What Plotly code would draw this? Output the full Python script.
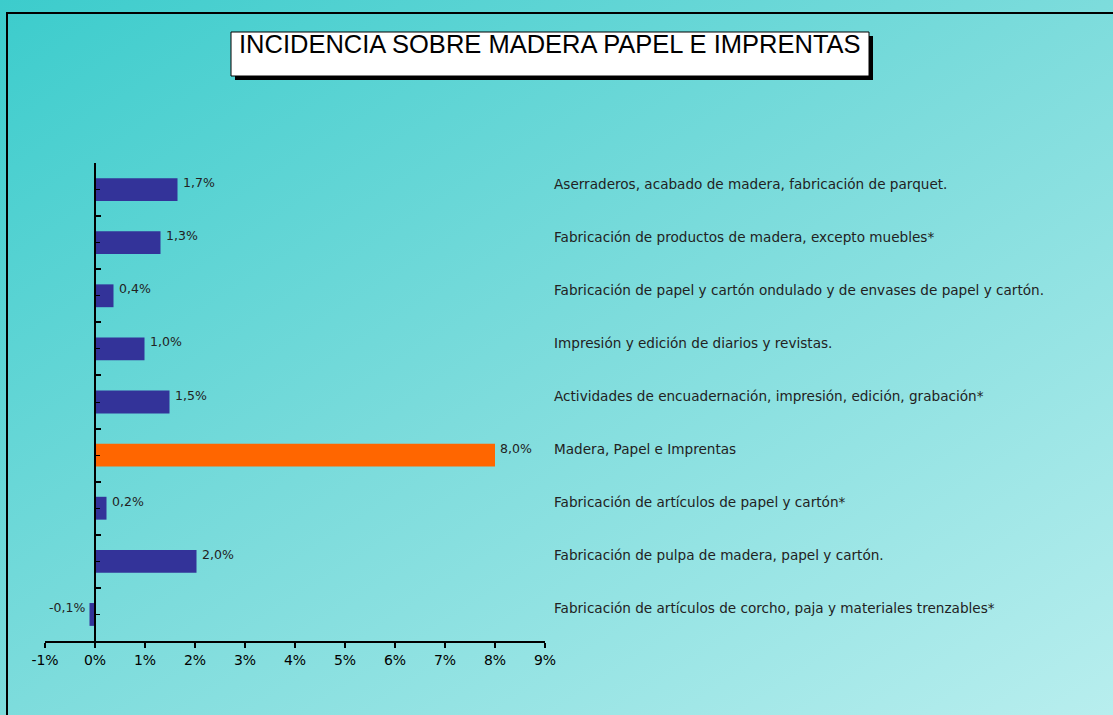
import plotly.graph_objects as go
import urllib.parse

# ---- data ----
categories = [
    "Aserraderos, acabado de madera, fabricación de parquet.",
    "Fabricación de productos de madera, excepto muebles*",
    "Fabricación de papel y cartón ondulado y de envases de papel y cartón.",
    "Impresión y edición de diarios y revistas.",
    "Actividades de encuadernación, impresión, edición, grabación*",
    "Madera, Papel e Imprentas",
    "Fabricación de artículos de papel y cartón*",
    "Fabricación de pulpa de madera, papel y cartón.",
    "Fabricación de artículos de corcho, paja y materiales trenzables*",
]
values = [1.65, 1.31, 0.37, 0.99, 1.49, 8.0, 0.23, 2.03, -0.11]
value_labels = ["1,7%", "1,3%", "0,4%", "1,0%", "1,5%", "8,0%", "0,2%", "2,0%", "-0,1%"]
x_tick_vals = [-1, 0, 1, 2, 3, 4, 5, 6, 7, 8, 9]
x_tick_text = ["-1%", "0%", "1%", "2%", "3%", "4%", "5%", "6%", "7%", "8%", "9%"]
title_text = "INCIDENCIA SOBRE MADERA PAPEL E IMPRENTAS"
total_label = "Madera, Papel e Imprentas"

# ---- layout geometry (pixels) ----
W, H = 1113, 715
L, R, T, B = 45, 545, 163, 641
PW, PH = R - L, B - T


def px_x(px):
    return (px - L) / PW


def px_y(py):
    return (B - py) / PH


n = len(categories)
ypos = list(range(n - 1, -1, -1))
colors = ["#ff6600" if c == total_label else "#333399" for c in categories]

fig = go.Figure()
fig.add_trace(go.Bar(
    x=values, y=ypos, orientation="h",
    marker=dict(color=colors, line=dict(width=0)),
    hoverinfo="skip",
))

# gradient background (SVG data URI)
svg = (
    '<svg xmlns="http://www.w3.org/2000/svg" width="1113" height="715" preserveAspectRatio="none">'
    '<defs><linearGradient id="g" x1="0" y1="0" x2="1" y2="1">'
    '<stop offset="0" stop-color="#3ccccc"/>'
    '<stop offset="0.5" stop-color="#7ddcdc"/>'
    '<stop offset="1" stop-color="#b8eeee"/>'
    '</linearGradient></defs>'
    '<rect width="1113" height="715" fill="url(#g)"/></svg>'
)
src = "data:image/svg+xml;charset=utf-8," + urllib.parse.quote(svg)

label_font = dict(family="DejaVu Sans, Open Sans, sans-serif", size=12.5, color="#222222")
annotations = []
for i, cat in enumerate(categories):
    annotations.append(dict(
        x=px_x(552), y=ypos[i], xref="paper", yref="y",
        text=cat, showarrow=False, xanchor="left", yanchor="middle", yshift=6,
        font=dict(family="DejaVu Sans, Open Sans, sans-serif", size=13.6, color="#222222"),
    ))
    v = values[i]
    annotations.append(dict(
        x=v, y=ypos[i], xref="x", yref="y",
        text=value_labels[i], showarrow=False,
        xanchor="left" if v >= 0 else "right", yanchor="middle",
        xshift=3 if v >= 0 else -3, yshift=7,
        font=label_font,
    ))
annotations.append(dict(
    x=px_x(550), y=px_y(44), xref="paper", yref="paper",
    text=title_text, showarrow=False, xanchor="center", yanchor="middle",
    font=dict(family="Liberation Sans, sans-serif", size=25.5, color="#000000"),
))

shapes = [
    # outer frame (top and left edges; right/bottom lie outside the picture)
    dict(type="line", xref="paper", yref="paper",
         x0=px_x(6), x1=px_x(W + 5), y0=px_y(13), y1=px_y(13),
         line=dict(color="black", width=2)),
    dict(type="line", xref="paper", yref="paper",
         x0=px_x(7), x1=px_x(7), y0=px_y(12), y1=px_y(H + 5),
         line=dict(color="black", width=2)),
    # title shadow
    dict(type="rect", xref="paper", yref="paper",
         x0=px_x(235), x1=px_x(873), y0=px_y(36), y1=px_y(80),
         line=dict(width=0), fillcolor="black"),
    # title box
    dict(type="rect", xref="paper", yref="paper",
         x0=px_x(231), x1=px_x(869), y0=px_y(32), y1=px_y(76),
         line=dict(color="black", width=1), fillcolor="white"),
]

fig.update_layout(
    width=W, height=H,
    margin=dict(l=L, r=W - R, t=T, b=H - B, pad=0),
    paper_bgcolor="#7ddcdc", plot_bgcolor="rgba(0,0,0,0)",
    showlegend=False, bargap=0.57,
    images=[dict(source=src, xref="paper", yref="paper",
                 x=px_x(0), y=px_y(0), sizex=W / PW, sizey=H / PH,
                 sizing="stretch", xanchor="left", yanchor="top", layer="below")],
    xaxis=dict(range=[-1, 9], tickvals=x_tick_vals, ticktext=x_tick_text,
               showgrid=False, zeroline=False, showline=True, linecolor="black", linewidth=2,
               ticks="outside", ticklen=5, tickwidth=2, tickcolor="black",
               tickfont=dict(family="DejaVu Sans, sans-serif", size=14, color="#000000"),
               fixedrange=True),
    yaxis=dict(range=[-0.5, n - 0.5], anchor="free", position=px_x(95),
               showgrid=False, zeroline=False, showline=True, linecolor="black", linewidth=2,
               ticks="inside", ticklen=5, tickwidth=2, tickcolor="black",
               tick0=-0.5, dtick=1, showticklabels=False,
               minor=dict(ticks="inside", ticklen=4, tickwidth=1, tickcolor="black",
                          tick0=0, dtick=1),
               fixedrange=True),
    annotations=annotations, shapes=shapes,
)

fig.write_html("out.html", config={"displayModeBar": False},
               post_script="document.body.style.margin='0';")
